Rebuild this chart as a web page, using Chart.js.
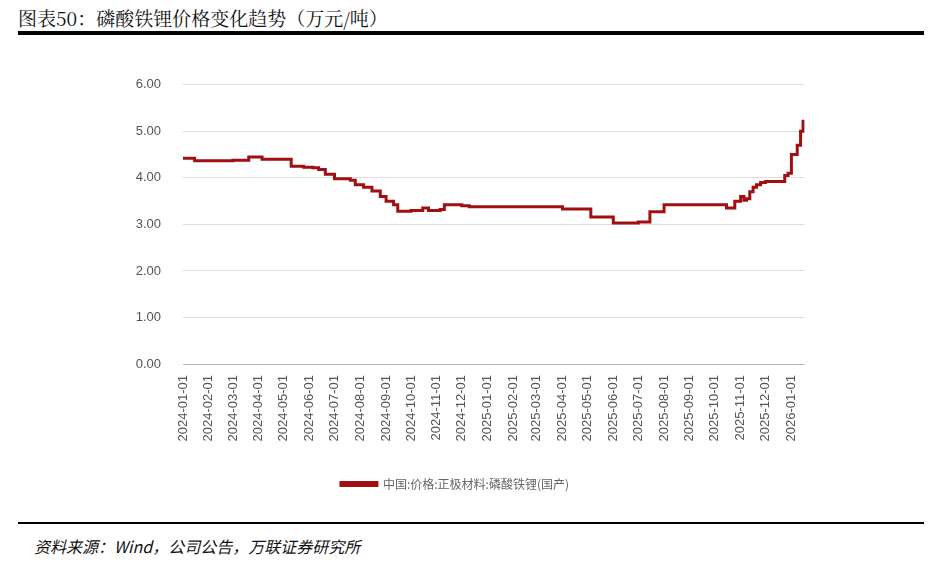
<!DOCTYPE html>
<html><head><meta charset="utf-8">
<script src="https://cdn.jsdelivr.net/npm/chart.js@4"></script>
<style>
body{margin:0;width:946px;height:562px;background:#fff;position:relative;overflow:hidden;font-family:"Noto Sans CJK SC",sans-serif}
#t{position:absolute;left:18px;top:4px;font-size:19px;color:#111;font-family:"Noto Serif CJK SC","Noto Sans CJK SC",serif}
#l1{position:absolute;left:18px;top:31px;width:906px;height:4px;background:#000}
#l2{position:absolute;left:18px;top:522px;width:906px;height:2px;background:#000}
#s{position:absolute;left:34px;top:534px;font-size:16px;font-style:italic;color:#111}
#c{position:absolute;left:100px;top:55px;width:710px;height:445px}
</style></head><body>
<div id="t">图表50：磷酸铁锂价格变化趋势（万元/吨）</div>
<div id="l1"></div>
<div id="c"><canvas id="cv"></canvas></div>
<div id="l2"></div>
<div id="s">资料来源：Wind，公司公告，万联证券研究所</div>
<script>
const seriesName = "中国:价格:正极材料:磷酸铁锂(国产)";
const dates = ["2024-01-01","2024-01-15","2024-03-01","2024-03-20","2024-04-05","2024-05-10","2024-05-25","2024-06-05","2024-06-12","2024-06-20","2024-07-01","2024-07-20","2024-07-26","2024-08-05","2024-08-15","2024-08-25","2024-09-01","2024-09-10","2024-09-15","2024-10-01","2024-10-15","2024-10-22","2024-11-05","2024-11-10","2024-12-01","2024-12-10","2025-04-01","2025-05-05","2025-06-01","2025-07-01","2025-07-15","2025-08-01","2025-10-15","2025-10-25","2025-11-01","2025-11-05","2025-11-08","2025-11-12","2025-11-16","2025-11-20","2025-11-25","2025-12-01","2025-12-24","2025-12-28","2026-01-01","2026-01-08","2026-01-12","2026-01-15"];
const values = [4.42,4.37,4.38,4.45,4.40,4.25,4.23,4.22,4.18,4.08,3.98,3.95,3.85,3.80,3.72,3.60,3.50,3.42,3.28,3.30,3.35,3.30,3.32,3.42,3.40,3.38,3.33,3.16,3.03,3.05,3.27,3.42,3.35,3.50,3.60,3.52,3.55,3.70,3.80,3.85,3.90,3.92,4.05,4.10,4.50,4.70,5.00,5.25];
const yTicks = [0,1,2,3,4,5,6];
const DAY = 86400000, base = Date.UTC(2024,0,1);
const dayOf = s => { const [y,m,d]=s.split('-').map(Number); return (Date.UTC(y,m-1,d)-base)/DAY; };
const pts = dates.map((d,i)=>({x:dayOf(d),y:values[i]}));
const monthTicks=[]; for(let i=0;i<=24;i++){const y=2024+Math.floor(i/12),m=i%12+1;monthTicks.push(y+'-'+String(m).padStart(2,'0')+'-01');}
new Chart(document.getElementById('cv'),{type:'line',
data:{datasets:[{label:seriesName,data:pts,stepped:'before',borderColor:'#a00f12',backgroundColor:'#a00f12',borderWidth:3,pointRadius:0}]},
options:{responsive:true,maintainAspectRatio:false,animation:false,
layout:{padding:{left:0,right:0,top:0,bottom:0}},
plugins:{legend:{position:'bottom',labels:{boxWidth:36,boxHeight:3,color:'#666',padding:10,font:{size:12,family:'"Noto Sans CJK SC"'}}},tooltip:{enabled:false}},
scales:{x:{type:'linear',min:0,max:dayOf('2026-01-17'),
afterBuildTicks:a=>{a.ticks=monthTicks.map(s=>({value:dayOf(s),label:s}));},
afterFit:s=>{s.height=104;},
ticks:{autoSkip:false,maxRotation:90,minRotation:90,color:'#555',font:{size:13},callback:(v)=>{const i=monthTicks.findIndex(s=>dayOf(s)===v);return i>=0?monthTicks[i]:'';}},
grid:{display:false},border:{color:'#bbb'}},
y:{min:0,max:6,afterBuildTicks:a=>{a.ticks=yTicks.map(v=>({value:v}));},
afterFit:s=>{s.width=83;},
ticks:{color:'#555',font:{size:13},padding:22,callback:v=>v.toFixed(2)},
grid:{color:'#ddd',drawTicks:false},border:{display:false}}}}});
</script></body></html>
